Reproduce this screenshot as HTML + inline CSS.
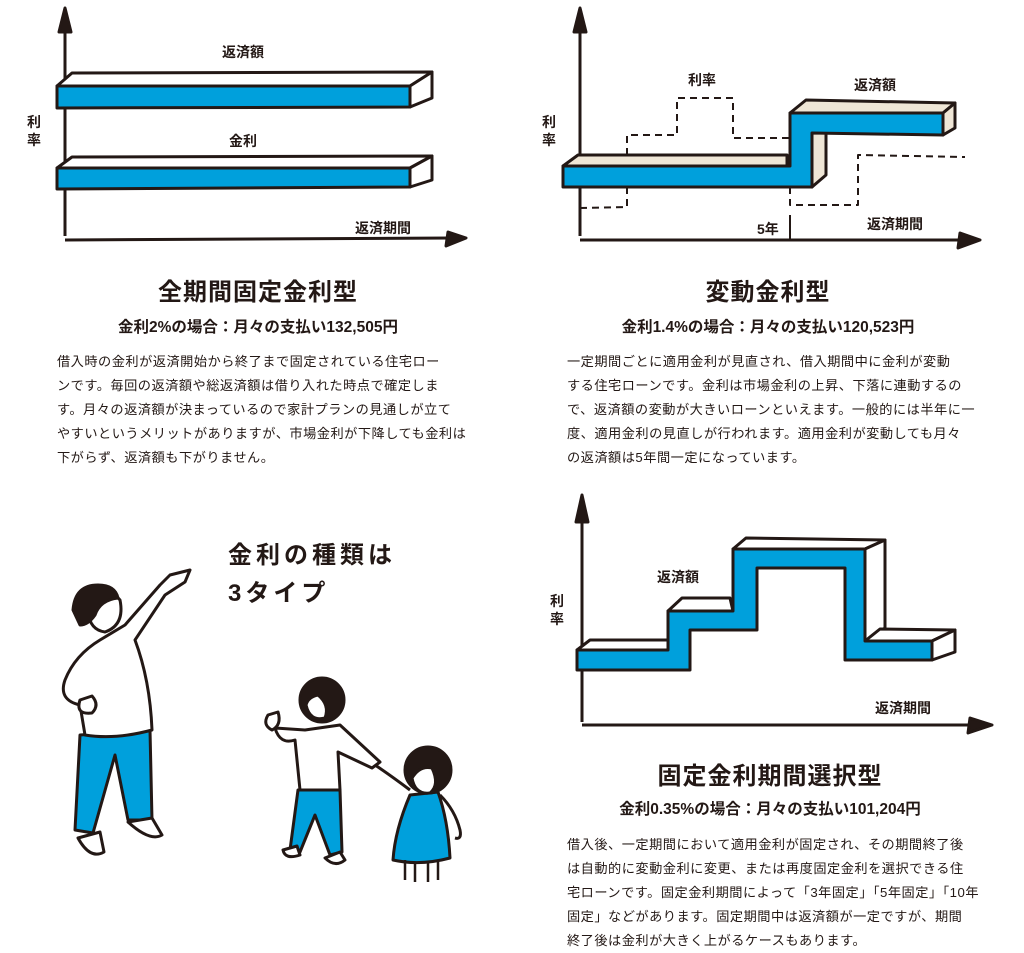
<!DOCTYPE html>
<html><head><meta charset="utf-8"><style>
body{margin:0;background:#fff;width:1024px;height:951px;overflow:hidden;position:relative;font-family:"Liberation Sans","Noto Sans CJK JP",sans-serif;color:#231815}
.t{position:absolute;white-space:nowrap}
.h{font-weight:bold;font-size:24px;letter-spacing:1px}
.s{font-weight:bold;font-size:15.5px}
.p{font-size:13.2px;line-height:24px;width:430px;letter-spacing:0.5px}
.l{font-weight:bold;font-size:14px}
svg{position:absolute;left:0;top:0}
</style></head><body>
<svg width="1024" height="951" viewBox="0 0 1024 951" fill="none" stroke="#231815" stroke-width="3" stroke-linejoin="round">
<!-- chart1 -->
<path d="M65 236 L65 25"/><path d="M59 32 L65 8 L71 32Z" fill="#231815"/>
<path d="M65 240 L452 238"/><path d="M448 232 L466 238 L446 246Z" fill="#231815"/>
<path d="M57 86 L72 73 L432 72 L410 86Z" fill="#fff"/>
<path d="M57 86 L410 86 L410 107 L57 108Z" fill="#00a0dc"/>
<path d="M410 86 L432 72 L432 98 L410 107Z" fill="#fff"/>
<path d="M57 168 L72 157 L432 156 L410 168Z" fill="#fff"/>
<path d="M57 168 L410 168 L410 187 L57 189Z" fill="#00a0dc"/>
<path d="M410 168 L432 156 L432 180 L410 187Z" fill="#fff"/>
<!-- chart2 -->
<path d="M580 236 L580 25"/><path d="M574 32 L580 8 L586 32Z" fill="#231815"/>
<path d="M580 240 L965 240"/><path d="M960 233 L980 240 L958 248Z" fill="#231815"/>
<path d="M790 215 L790 240" stroke-width="2"/>
<g stroke-dasharray="7 5" stroke-width="2">
<path d="M580 208 L627 207 L627 188"/>
<path d="M627 155 L627 135 L677 135 L677 98 L733 98 L733 138 L790 138"/>
<path d="M790 187 L790 205 L858 205 L858 155 L965 157"/>
</g>
<path d="M563 166 L578 155 L787 155 L787 166Z" fill="#efe6d6"/>
<path d="M790 113 L806 100 L955 103 L943 113Z" fill="#efe6d6"/>
<path d="M943 113 L955 103 L955 128 L943 135Z" fill="#efe6d6"/>
<path d="M812 133 L826 133 L826 175 L812 187Z" fill="#efe6d6"/>
<path d="M563 166 L790 166 L790 113 L943 113 L943 135 L812 133 L812 187 L563 187Z" fill="#00a0dc"/>
<!-- chart3 -->
<path d="M582 722 L582 515"/><path d="M576 522 L582 495 L588 522Z" fill="#231815"/>
<path d="M582 725 L975 725"/><path d="M970 718 L992 725 L968 733Z" fill="#231815"/>
<path d="M577 650 L590 640 L668 640 L668 650Z" fill="#fff"/>
<path d="M668 611 L682 598 L730 598 L733 611Z" fill="#fff"/>
<path d="M733 549 L746 538 L885 540 L865 549Z" fill="#fff"/>
<path d="M865 549 L885 540 L885 628 L865 641Z" fill="#fff"/>
<path d="M865 641 L880 629 L955 630 L932 641Z" fill="#fff"/>
<path d="M932 641 L955 630 L955 652 L932 660Z" fill="#fff"/>
<path d="M577 650 L668 650 L668 611 L733 611 L733 549 L865 549 L865 641 L932 641 L932 660 L845 660 L845 568 L757 568 L757 630 L690 630 L690 670 L577 670Z" fill="#00a0dc"/>
<!-- man -->
<g stroke-width="3">
<path d="M80 735 L75 830 L93 833 L115 755 L128 820 L152 820 L150 730Z" fill="#00a0dc"/>
<path d="M78 838 Q90 860 104 852 L100 832Z" fill="#fff"/>
<path d="M128 822 Q150 842 162 835 L152 818Z" fill="#fff"/>
<path d="M100 640 Q75 655 65 680 Q58 700 80 705 L85 735 Q115 740 152 730 Q150 680 135 640 L165 595 L185 582 L190 570 L170 575 L160 585 L125 625Z" fill="#fff"/>
<path d="M80 700 Q75 715 92 713 Q100 705 92 696Z" fill="#fff"/>
<path d="M88 592 Q102 580 120 600 Q125 625 105 632 Q90 630 88 612Z" fill="#fff"/>
<path d="M73 610 Q75 585 98 585 Q115 585 118 598 Q100 600 95 615 Q88 625 80 625Z" fill="#231815"/>
<!-- boy -->
<path d="M298 790 L290 850 L300 852 L315 815 L330 855 L342 852 L340 790Z" fill="#00a0dc"/>
<path d="M283 850 Q285 860 300 855 L297 846Z" fill="#fff"/>
<path d="M325 858 Q335 868 345 860 L340 852Z" fill="#fff"/>
<path d="M275 728 Q280 745 295 740 L300 790 L340 790 L338 752 L372 768 L380 762 L340 725 L305 730Z" fill="#fff"/>
<path d="M268 715 Q262 725 272 730 Q282 725 278 712Z" fill="#fff"/>
<circle cx="322" cy="700" r="22" fill="#231815"/>
<path d="M306 705 Q310 722 325 718 Q330 705 318 695 Q308 697 306 705Z" fill="#fff"/>
<!-- girl -->
<path d="M375 765 Q390 775 410 790" />
<path d="M410 795 Q395 830 393 860 Q420 866 450 858 Q448 820 438 792Z" fill="#00a0dc"/>
<path d="M405 860 L405 880 M415 862 L415 882 M428 862 L428 882 M438 862 L438 880" stroke-width="2.5"/>
<path d="M440 795 Q455 810 460 830 Q462 840 455 838" />
<circle cx="428" cy="770" r="23" fill="#231815"/>
<path d="M412 778 Q415 795 430 793 Q440 785 432 768 Q420 765 412 778Z" fill="#fff"/>
</g>
</svg>
<div class="t l" style="left:222px;top:42px">返済額</div>
<div class="t l" style="left:229px;top:131px">金利</div>
<div class="t l" style="left:27px;top:113px;line-height:18px">利<br>率</div>
<div class="t l" style="left:355px;top:218px">返済期間</div>
<div class="t l" style="left:688px;top:70px">利率</div>
<div class="t l" style="left:854px;top:75px">返済額</div>
<div class="t l" style="left:542px;top:113px;line-height:18px">利<br>率</div>
<div class="t l" style="left:757px;top:219px">5年</div>
<div class="t l" style="left:867px;top:214px">返済期間</div>
<div class="t l" style="left:657px;top:567px">返済額</div>
<div class="t l" style="left:550px;top:592px;line-height:18px">利<br>率</div>
<div class="t l" style="left:875px;top:698px">返済期間</div>

<div class="t h" style="left:0;width:516px;text-align:center;top:272px">全期間固定金利型</div>
<div class="t s" style="left:0;width:516px;text-align:center;top:315px">金利2%の場合：月々の支払い132,505円</div>
<div class="t p" style="left:57px;top:350px">借入時の金利が返済開始から終了まで固定されている住宅ロー<br>ンです。毎回の返済額や総返済額は借り入れた時点で確定しま<br>す。月々の返済額が決まっているので家計プランの見通しが立て<br>やすいというメリットがありますが、市場金利が下降しても金利は<br>下がらず、返済額も下がりません。</div>

<div class="t h" style="left:512px;width:512px;text-align:center;top:272px">変動金利型</div>
<div class="t s" style="left:512px;width:512px;text-align:center;top:315px">金利1.4%の場合：月々の支払い120,523円</div>
<div class="t p" style="left:567px;top:350px">一定期間ごとに適用金利が見直され、借入期間中に金利が変動<br>する住宅ローンです。金利は市場金利の上昇、下落に連動するの<br>で、返済額の変動が大きいローンといえます。一般的には半年に一<br>度、適用金利の見直しが行われます。適用金利が変動しても月々<br>の返済額は5年間一定になっています。</div>

<div class="t h" style="left:228px;top:535px;letter-spacing:4px">金利の種類は</div>
<div class="t h" style="left:228px;top:573px;letter-spacing:4px">3タイプ</div>

<div class="t h" style="left:512px;width:516px;text-align:center;top:756px">固定金利期間選択型</div>
<div class="t s" style="left:512px;width:516px;text-align:center;top:797px">金利0.35%の場合：月々の支払い101,204円</div>
<div class="t p" style="left:567px;top:833px">借入後、一定期間において適用金利が固定され、その期間終了後<br>は自動的に変動金利に変更、または再度固定金利を選択できる住<br>宅ローンです。固定金利期間によって「3年固定」「5年固定」「10年<br>固定」などがあります。固定期間中は返済額が一定ですが、期間<br>終了後は金利が大きく上がるケースもあります。</div>
</body></html>
